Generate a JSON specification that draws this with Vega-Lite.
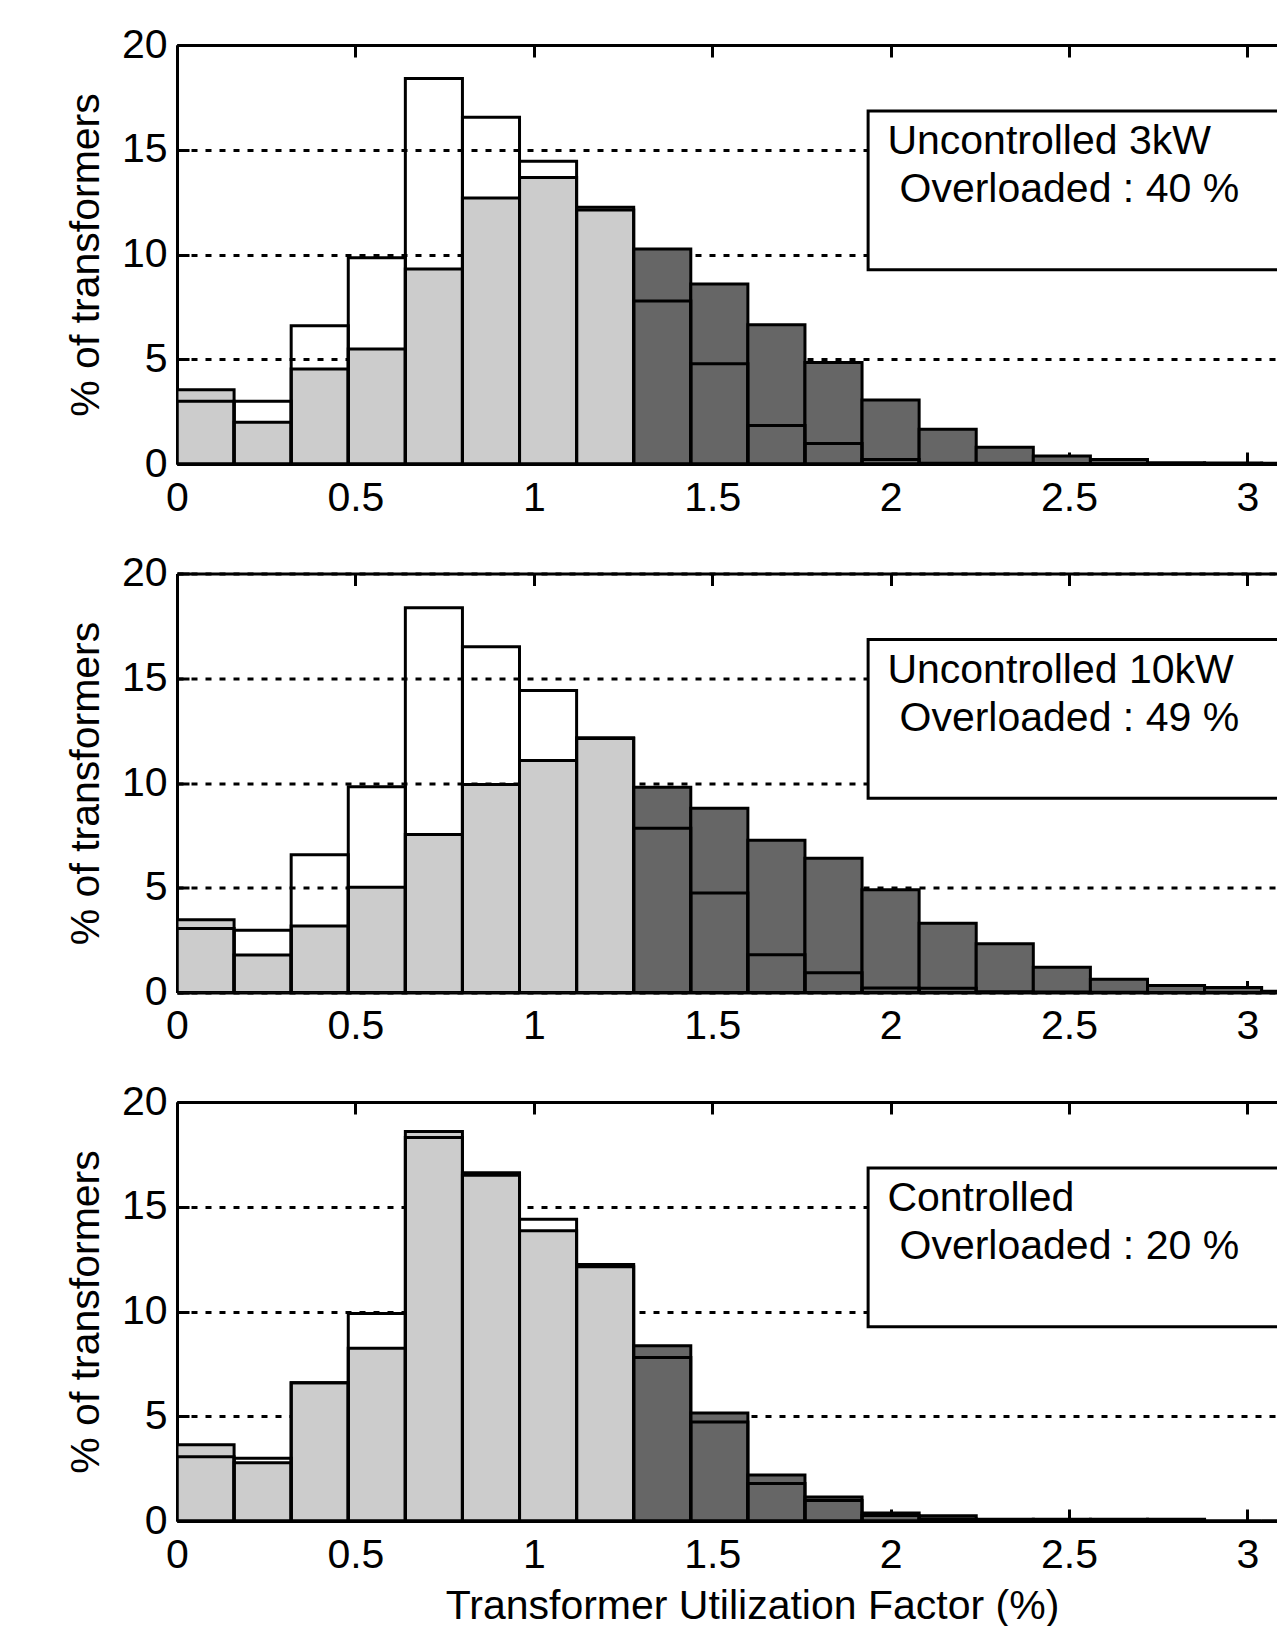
{
  "$schema": "https://vega.github.io/schema/vega-lite/v6.json",
  "background": "white",
  "padding": {"left": 65, "top": 24, "right": 0, "bottom": 0},
  "spacing": 109.5,
  "bounds": "flush",
  "config": {
    "view": {"stroke": null},
    "font": "Liberation Sans",
    "axis": {
      "labelFont": "Liberation Sans",
      "labelFontSize": 41,
      "labelColor": "black",
      "titleFont": "Liberation Sans",
      "titleFontSize": 41,
      "titleFontWeight": "normal",
      "titleColor": "black",
      "domainColor": "black",
      "domainWidth": 3,
      "tickColor": "black",
      "tickWidth": 3,
      "labelFlush": false,
      "labelOverlap": false,
      "format": "~g"
    }
  },
  "datasets": {
    "bins": [
      {"p": 1, "lo": 0.0, "hi": 0.16, "g": 3.55, "b": 3.0, "over": "no"},
      {"p": 1, "lo": 0.16, "hi": 0.32, "g": 1.99, "b": 3.0, "over": "no"},
      {"p": 1, "lo": 0.32, "hi": 0.48, "g": 4.53, "b": 6.6, "over": "no"},
      {"p": 1, "lo": 0.48, "hi": 0.64, "g": 5.49, "b": 9.85, "over": "no"},
      {"p": 1, "lo": 0.64, "hi": 0.8, "g": 9.31, "b": 18.4, "over": "no"},
      {"p": 1, "lo": 0.8, "hi": 0.96, "g": 12.7, "b": 16.55, "over": "no"},
      {"p": 1, "lo": 0.96, "hi": 1.12, "g": 13.67, "b": 14.45, "over": "no"},
      {"p": 1, "lo": 1.12, "hi": 1.28, "g": 12.25, "b": 12.12, "over": "no"},
      {"p": 1, "lo": 1.28, "hi": 1.44, "g": 10.26, "b": 7.78, "over": "yes"},
      {"p": 1, "lo": 1.44, "hi": 1.6, "g": 8.59, "b": 4.78, "over": "yes"},
      {"p": 1, "lo": 1.6, "hi": 1.76, "g": 6.65, "b": 1.84, "over": "yes"},
      {"p": 1, "lo": 1.76, "hi": 1.92, "g": 4.85, "b": 0.98, "over": "yes"},
      {"p": 1, "lo": 1.92, "hi": 2.08, "g": 3.05, "b": 0.22, "over": "yes"},
      {"p": 1, "lo": 2.08, "hi": 2.24, "g": 1.66, "b": 0.03, "over": "yes"},
      {"p": 1, "lo": 2.24, "hi": 2.4, "g": 0.8, "b": 0.03, "over": "yes"},
      {"p": 1, "lo": 2.4, "hi": 2.56, "g": 0.38, "b": 0.02, "over": "yes"},
      {"p": 1, "lo": 2.56, "hi": 2.72, "g": 0.22, "b": 0.01, "over": "yes"},
      {"p": 1, "lo": 2.72, "hi": 2.88, "g": 0.06, "b": 0.0, "over": "yes"},
      {"p": 1, "lo": 2.88, "hi": 3.04, "g": 0.05, "b": 0.0, "over": "yes"},
      {"p": 1, "lo": 3.04, "hi": 3.2, "g": 0.04, "b": 0.0, "over": "yes"},
      {"p": 2, "lo": 0.0, "hi": 0.16, "g": 3.47, "b": 3.05, "over": "no"},
      {"p": 2, "lo": 0.16, "hi": 0.32, "g": 1.79, "b": 2.97, "over": "no"},
      {"p": 2, "lo": 0.32, "hi": 0.48, "g": 3.17, "b": 6.58, "over": "no"},
      {"p": 2, "lo": 0.48, "hi": 0.64, "g": 5.02, "b": 9.82, "over": "no"},
      {"p": 2, "lo": 0.64, "hi": 0.8, "g": 7.54, "b": 18.36, "over": "no"},
      {"p": 2, "lo": 0.8, "hi": 0.96, "g": 9.93, "b": 16.5, "over": "no"},
      {"p": 2, "lo": 0.96, "hi": 1.12, "g": 11.07, "b": 14.42, "over": "no"},
      {"p": 2, "lo": 1.12, "hi": 1.28, "g": 12.16, "b": 12.13, "over": "no"},
      {"p": 2, "lo": 1.28, "hi": 1.44, "g": 9.8, "b": 7.84, "over": "yes"},
      {"p": 2, "lo": 1.44, "hi": 1.6, "g": 8.79, "b": 4.75, "over": "yes"},
      {"p": 2, "lo": 1.6, "hi": 1.76, "g": 7.27, "b": 1.8, "over": "yes"},
      {"p": 2, "lo": 1.76, "hi": 1.92, "g": 6.41, "b": 0.94, "over": "yes"},
      {"p": 2, "lo": 1.92, "hi": 2.08, "g": 4.91, "b": 0.22, "over": "yes"},
      {"p": 2, "lo": 2.08, "hi": 2.24, "g": 3.3, "b": 0.2, "over": "yes"},
      {"p": 2, "lo": 2.24, "hi": 2.4, "g": 2.33, "b": 0.03, "over": "yes"},
      {"p": 2, "lo": 2.4, "hi": 2.56, "g": 1.2, "b": 0.02, "over": "yes"},
      {"p": 2, "lo": 2.56, "hi": 2.72, "g": 0.63, "b": 0.01, "over": "yes"},
      {"p": 2, "lo": 2.72, "hi": 2.88, "g": 0.34, "b": 0.0, "over": "yes"},
      {"p": 2, "lo": 2.88, "hi": 3.04, "g": 0.24, "b": 0.0, "over": "yes"},
      {"p": 2, "lo": 3.04, "hi": 3.2, "g": 0.06, "b": 0.0, "over": "yes"},
      {"p": 3, "lo": 0.0, "hi": 0.16, "g": 3.64, "b": 3.07, "over": "no"},
      {"p": 3, "lo": 0.16, "hi": 0.32, "g": 2.78, "b": 3.0, "over": "no"},
      {"p": 3, "lo": 0.32, "hi": 0.48, "g": 6.6, "b": 6.6, "over": "no"},
      {"p": 3, "lo": 0.48, "hi": 0.64, "g": 8.24, "b": 9.9, "over": "no"},
      {"p": 3, "lo": 0.64, "hi": 0.8, "g": 18.59, "b": 18.3, "over": "no"},
      {"p": 3, "lo": 0.8, "hi": 0.96, "g": 16.62, "b": 16.5, "over": "no"},
      {"p": 3, "lo": 0.96, "hi": 1.12, "g": 13.85, "b": 14.4, "over": "no"},
      {"p": 3, "lo": 1.12, "hi": 1.28, "g": 12.24, "b": 12.14, "over": "no"},
      {"p": 3, "lo": 1.28, "hi": 1.44, "g": 8.37, "b": 7.8, "over": "yes"},
      {"p": 3, "lo": 1.44, "hi": 1.6, "g": 5.15, "b": 4.72, "over": "yes"},
      {"p": 3, "lo": 1.6, "hi": 1.76, "g": 2.2, "b": 1.79, "over": "yes"},
      {"p": 3, "lo": 1.76, "hi": 1.92, "g": 1.14, "b": 0.98, "over": "yes"},
      {"p": 3, "lo": 1.92, "hi": 2.08, "g": 0.38, "b": 0.26, "over": "yes"},
      {"p": 3, "lo": 2.08, "hi": 2.24, "g": 0.25, "b": 0.1, "over": "yes"},
      {"p": 3, "lo": 2.24, "hi": 2.4, "g": 0.08, "b": 0.03, "over": "yes"},
      {"p": 3, "lo": 2.4, "hi": 2.56, "g": 0.08, "b": 0.02, "over": "yes"},
      {"p": 3, "lo": 2.56, "hi": 2.72, "g": 0.08, "b": 0.01, "over": "yes"},
      {"p": 3, "lo": 2.72, "hi": 2.88, "g": 0.08, "b": 0.0, "over": "yes"},
      {"p": 3, "lo": 2.88, "hi": 3.04, "g": 0.0, "b": 0.0, "over": "yes"},
      {"p": 3, "lo": 3.04, "hi": 3.2, "g": 0.0, "b": 0.0, "over": "yes"}
    ],
    "notes": [
      {"p": 1, "t1": "Uncontrolled 3kW", "t2": "Overloaded : 40 %"},
      {"p": 2, "t1": "Uncontrolled 10kW", "t2": "Overloaded : 49 %"},
      {"p": 3, "t1": "Controlled", "t2": "Overloaded : 20 %"}
    ]
  },
  "vconcat": [
    {
      "width": 1100, "height": 419,
      "resolve": {"axis": {"x": "independent", "y": "independent"}},
      "layer": [
        {"data": {"name": "bins"}, "transform": [{"filter": "datum.p == 1"}],
         "mark": {"type": "rect", "stroke": "black", "strokeWidth": 3, "clip": true},
         "encoding": {
           "x": {"field": "lo", "type": "quantitative", "scale": {"domain": [0, 3.083], "nice": false, "zero": false},
                 "axis": {"orient": "bottom", "values": [0, 0.5, 1, 1.5, 2, 2.5, 3], "tickSize": -12, "labelPadding": 26, "grid": false, "title": null}},
           "x2": {"field": "hi"},
           "y": {"field": "g", "type": "quantitative", "scale": {"domain": [0, 20], "nice": false},
                 "axis": {"orient": "left", "values": [0, 5, 10, 15, 20], "tickSize": -12, "labelPadding": 22, "grid": true, "gridColor": "black", "gridWidth": 3, "gridDash": [6, 8], "title": "% of transformers", "titlePadding": 14}},
           "y2": {"datum": 0},
           "fill": {"field": "over", "type": "nominal", "scale": {"domain": ["no", "yes"], "range": ["#cccccc", "#666666"]}, "legend": null}
         }},
        {"data": {"name": "bins"}, "transform": [{"filter": "datum.p == 1"}],
         "mark": {"type": "rect", "filled": false, "stroke": "black", "strokeWidth": 3, "clip": true},
         "encoding": {
           "x": {"field": "lo", "type": "quantitative",
                 "axis": {"orient": "top", "values": [0, 0.5, 1, 1.5, 2, 2.5, 3], "tickSize": -12, "labels": false, "grid": false, "title": null}},
           "x2": {"field": "hi"},
           "y": {"field": "b", "type": "quantitative", "axis": null},
           "y2": {"datum": 0}
         }},
        {"data": {"name": "notes"}, "transform": [{"filter": "datum.p == 1"}],
         "mark": {"type": "rect", "fill": "white", "stroke": "black", "strokeWidth": 3, "clip": true},
         "encoding": {
           "x": {"datum": 1.937, "type": "quantitative", "axis": null},
           "x2": {"datum": 3.6},
           "y": {"datum": 16.85, "type": "quantitative", "axis": null},
           "y2": {"datum": 9.27}
         }},
        {"data": {"name": "notes"}, "transform": [{"filter": "datum.p == 1"}],
         "mark": {"type": "text", "font": "Liberation Sans", "fontSize": 41, "color": "black", "align": "left", "baseline": "alphabetic"},
         "encoding": {
           "x": {"datum": 1.991, "type": "quantitative", "axis": null},
           "y": {"datum": 14.78, "type": "quantitative", "axis": null},
           "text": {"field": "t1"}
         }},
        {"data": {"name": "notes"}, "transform": [{"filter": "datum.p == 1"}],
         "mark": {"type": "text", "font": "Liberation Sans", "fontSize": 41, "color": "black", "align": "left", "baseline": "alphabetic"},
         "encoding": {
           "x": {"datum": 2.025, "type": "quantitative", "axis": null},
           "y": {"datum": 12.49, "type": "quantitative", "axis": null},
           "text": {"field": "t2"}
         }}
      ]
    },
    {
      "width": 1100, "height": 419,
      "resolve": {"axis": {"x": "independent", "y": "independent"}},
      "layer": [
        {"data": {"name": "bins"}, "transform": [{"filter": "datum.p == 2"}],
         "mark": {"type": "rect", "stroke": "black", "strokeWidth": 3, "clip": true},
         "encoding": {
           "x": {"field": "lo", "type": "quantitative", "scale": {"domain": [0, 3.083], "nice": false, "zero": false},
                 "axis": {"orient": "bottom", "values": [0, 0.5, 1, 1.5, 2, 2.5, 3], "tickSize": -12, "labelPadding": 26, "grid": false, "title": null}},
           "x2": {"field": "hi"},
           "y": {"field": "g", "type": "quantitative", "scale": {"domain": [0, 20], "nice": false},
                 "axis": {"orient": "left", "values": [0, 5, 10, 15, 20], "tickSize": -12, "labelPadding": 22, "grid": true, "gridColor": "black", "gridWidth": 3, "gridDash": [6, 8], "title": "% of transformers", "titlePadding": 14}},
           "y2": {"datum": 0},
           "fill": {"field": "over", "type": "nominal", "scale": {"domain": ["no", "yes"], "range": ["#cccccc", "#666666"]}, "legend": null}
         }},
        {"data": {"name": "bins"}, "transform": [{"filter": "datum.p == 2"}],
         "mark": {"type": "rect", "filled": false, "stroke": "black", "strokeWidth": 3, "clip": true},
         "encoding": {
           "x": {"field": "lo", "type": "quantitative",
                 "axis": {"orient": "top", "values": [0, 0.5, 1, 1.5, 2, 2.5, 3], "tickSize": -12, "labels": false, "grid": false, "title": null}},
           "x2": {"field": "hi"},
           "y": {"field": "b", "type": "quantitative", "axis": null},
           "y2": {"datum": 0}
         }},
        {"data": {"name": "notes"}, "transform": [{"filter": "datum.p == 2"}],
         "mark": {"type": "rect", "fill": "white", "stroke": "black", "strokeWidth": 3, "clip": true},
         "encoding": {
           "x": {"datum": 1.937, "type": "quantitative", "axis": null},
           "x2": {"datum": 3.6},
           "y": {"datum": 16.85, "type": "quantitative", "axis": null},
           "y2": {"datum": 9.27}
         }},
        {"data": {"name": "notes"}, "transform": [{"filter": "datum.p == 2"}],
         "mark": {"type": "text", "font": "Liberation Sans", "fontSize": 41, "color": "black", "align": "left", "baseline": "alphabetic"},
         "encoding": {
           "x": {"datum": 1.991, "type": "quantitative", "axis": null},
           "y": {"datum": 14.78, "type": "quantitative", "axis": null},
           "text": {"field": "t1"}
         }},
        {"data": {"name": "notes"}, "transform": [{"filter": "datum.p == 2"}],
         "mark": {"type": "text", "font": "Liberation Sans", "fontSize": 41, "color": "black", "align": "left", "baseline": "alphabetic"},
         "encoding": {
           "x": {"datum": 2.025, "type": "quantitative", "axis": null},
           "y": {"datum": 12.49, "type": "quantitative", "axis": null},
           "text": {"field": "t2"}
         }}
      ]
    },
    {
      "width": 1100, "height": 419,
      "resolve": {"axis": {"x": "independent", "y": "independent"}},
      "layer": [
        {"data": {"name": "bins"}, "transform": [{"filter": "datum.p == 3"}],
         "mark": {"type": "rect", "stroke": "black", "strokeWidth": 3, "clip": true},
         "encoding": {
           "x": {"field": "lo", "type": "quantitative", "scale": {"domain": [0, 3.083], "nice": false, "zero": false},
                 "axis": {"orient": "bottom", "values": [0, 0.5, 1, 1.5, 2, 2.5, 3], "tickSize": -12, "labelPadding": 26, "grid": false, "title": "Transformer Utilization Factor (%)", "titleX": 575, "titlePadding": 11}},
           "x2": {"field": "hi"},
           "y": {"field": "g", "type": "quantitative", "scale": {"domain": [0, 20], "nice": false},
                 "axis": {"orient": "left", "values": [0, 5, 10, 15, 20], "tickSize": -12, "labelPadding": 22, "grid": true, "gridColor": "black", "gridWidth": 3, "gridDash": [6, 8], "title": "% of transformers", "titlePadding": 14}},
           "y2": {"datum": 0},
           "fill": {"field": "over", "type": "nominal", "scale": {"domain": ["no", "yes"], "range": ["#cccccc", "#666666"]}, "legend": null}
         }},
        {"data": {"name": "bins"}, "transform": [{"filter": "datum.p == 3"}],
         "mark": {"type": "rect", "filled": false, "stroke": "black", "strokeWidth": 3, "clip": true},
         "encoding": {
           "x": {"field": "lo", "type": "quantitative",
                 "axis": {"orient": "top", "values": [0, 0.5, 1, 1.5, 2, 2.5, 3], "tickSize": -12, "labels": false, "grid": false, "title": null}},
           "x2": {"field": "hi"},
           "y": {"field": "b", "type": "quantitative", "axis": null},
           "y2": {"datum": 0}
         }},
        {"data": {"name": "notes"}, "transform": [{"filter": "datum.p == 3"}],
         "mark": {"type": "rect", "fill": "white", "stroke": "black", "strokeWidth": 3, "clip": true},
         "encoding": {
           "x": {"datum": 1.937, "type": "quantitative", "axis": null},
           "x2": {"datum": 3.6},
           "y": {"datum": 16.85, "type": "quantitative", "axis": null},
           "y2": {"datum": 9.27}
         }},
        {"data": {"name": "notes"}, "transform": [{"filter": "datum.p == 3"}],
         "mark": {"type": "text", "font": "Liberation Sans", "fontSize": 41, "color": "black", "align": "left", "baseline": "alphabetic"},
         "encoding": {
           "x": {"datum": 1.991, "type": "quantitative", "axis": null},
           "y": {"datum": 14.78, "type": "quantitative", "axis": null},
           "text": {"field": "t1"}
         }},
        {"data": {"name": "notes"}, "transform": [{"filter": "datum.p == 3"}],
         "mark": {"type": "text", "font": "Liberation Sans", "fontSize": 41, "color": "black", "align": "left", "baseline": "alphabetic"},
         "encoding": {
           "x": {"datum": 2.025, "type": "quantitative", "axis": null},
           "y": {"datum": 12.49, "type": "quantitative", "axis": null},
           "text": {"field": "t2"}
         }}
      ]
    }
  ]
}
